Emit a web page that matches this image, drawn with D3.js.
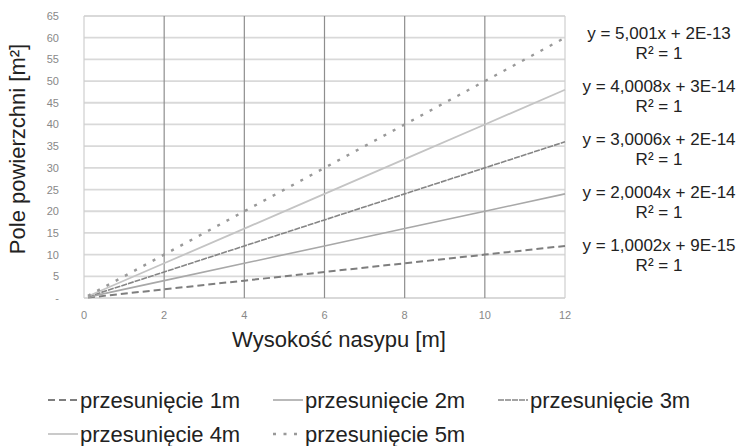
<!DOCTYPE html>
<html>
<head>
<meta charset="utf-8">
<script src="https://cdn.jsdelivr.net/npm/d3@7"></script>
<style>
  body { margin: 0; background: #fff; }
  text { font-family: "Liberation Sans", Arial, sans-serif; }
</style>
</head>
<body>
<svg id="chart" width="743" height="446"></svg>
<script>
// wysokosc nasypu [m]
var heights = [0.1, 2, 4, 6, 8, 10, 12];
// pole powierzchni [m2] dla kazdego przesuniecia
var shift1 = [0.1, 2, 4, 6, 8, 10, 12];
var shift2 = [0.2, 4, 8, 12, 16, 20, 24];
var shift3 = [0.3, 6, 12, 18, 24, 30, 36];
var shift4 = [0.4, 8, 16, 24, 32, 40, 48];
var shift5 = [0.5, 10, 20, 30, 40, 50, 60];

var seriesNames = ["przesunięcie 1m", "przesunięcie 2m", "przesunięcie 3m", "przesunięcie 4m", "przesunięcie 5m"];
var equations = ["y = 5,001x + 2E-13", "y = 4,0008x + 3E-14", "y = 3,0006x + 2E-14", "y = 2,0004x + 2E-14", "y = 1,0002x + 9E-15"];
var xTicks = [0, 2, 4, 6, 8, 10, 12];
var yTicks = [0, 5, 10, 15, 20, 25, 30, 35, 40, 45, 50, 55, 60, 65];

var svg = d3.select("#chart");

var x = d3.scaleLinear().domain([0, 12]).range([84, 565]);
var y = d3.scaleLinear().domain([0, 65]).range([298, 16]);

var styles = [
	{ color: "#7e7e7e", width: 2, dash: "7,4" },
	{ color: "#a8a8a8", width: 1.6, dash: null },
	{ color: "#858585", width: 1.6, dash: "6,1" },
	{ color: "#c4c4c4", width: 1.8, dash: null },
	{ color: "#999999", width: 2.4, dash: "3,7.5" }
];

var series = [shift1, shift2, shift3, shift4, shift5].map(function(vals, i) {
	return { name: seriesNames[i], style: styles[i], values: vals.map(function(v, j) { return [heights[j], v]; }) };
});

// siatka pozioma
svg.append("g")
	.selectAll("line")
	.data(yTicks)
	.enter().append("line")
		.attr("x1", x(0))
		.attr("x2", x(12))
		.attr("y1", function(d) { return y(d); })
		.attr("y2", function(d) { return y(d); })
		.attr("stroke", "#d9d9d9")
		.attr("stroke-width", 1.8);

// siatka pionowa
svg.append("g")
	.selectAll("line")
	.data(xTicks)
	.enter().append("line")
		.attr("x1", function(d) { return x(d); })
		.attr("x2", function(d) { return x(d); })
		.attr("y1", y(0))
		.attr("y2", y(65))
		.attr("stroke", function(d) { return (d == 0 || d == 12) ? "#cfcfcf" : "#8e8e8e"; })
		.attr("stroke-width", 1.2);

// etykiety osi
svg.append("g")
	.selectAll("text")
	.data(yTicks)
	.enter().append("text")
		.attr("x", 59)
		.attr("y", function(d) { return y(d) + 4; })
		.attr("text-anchor", "end")
		.attr("font-size", 11)
		.attr("fill", "#888")
		.text(function(d) { return d == 0 ? "-" : d; });

svg.append("g")
	.selectAll("text")
	.data(xTicks)
	.enter().append("text")
		.attr("x", function(d) { return x(d); })
		.attr("y", 319)
		.attr("text-anchor", "middle")
		.attr("font-size", 11)
		.attr("fill", "#888")
		.text(function(d) { return d; });

// linie
var line = d3.line()
	.x(function(d) { return x(d[0]); })
	.y(function(d) { return y(d[1]); });

svg.append("g")
	.selectAll("path")
	.data(series)
	.enter().append("path")
		.attr("d", function(d) { return line(d.values); })
		.attr("fill", "none")
		.attr("stroke", function(d) { return d.style.color; })
		.attr("stroke-width", function(d) { return d.style.width; })
		.attr("stroke-dasharray", function(d) { return d.style.dash; });

// tytuly osi
svg.append("text")
	.attr("x", 339)
	.attr("y", 347)
	.attr("text-anchor", "middle")
	.attr("font-size", 22)
	.attr("fill", "#222")
	.text("Wysokość nasypu [m]");

svg.append("text")
	.attr("transform", "translate(25,149) rotate(-90)")
	.attr("text-anchor", "middle")
	.attr("font-size", 22)
	.attr("fill", "#222")
	.text("Pole powierzchni [m²]");

// rownania trendu
var eq = svg.append("g")
	.selectAll("g")
	.data(equations)
	.enter().append("g")
		.attr("transform", function(d, i) { return "translate(659," + (39 + i * 53) + ")"; });

eq.append("text")
	.attr("text-anchor", "middle")
	.attr("font-size", 17)
	.attr("fill", "#222")
	.text(function(d) { return d; });

eq.append("text")
	.attr("y", 20)
	.attr("text-anchor", "middle")
	.attr("font-size", 17)
	.attr("fill", "#222")
	.text("R² = 1");

// legenda
var leg = svg.append("g")
	.selectAll("g")
	.data(series)
	.enter().append("g")
		.attr("transform", function(d, i) { return "translate(" + (48 + (i % 3) * 225) + "," + (408 + Math.floor(i / 3) * 34) + ")"; });

leg.append("line")
	.attr("x1", 0)
	.attr("x2", 30)
	.attr("y1", -8)
	.attr("y2", -8)
	.attr("stroke", function(d) { return d.style.color; })
	.attr("stroke-width", function(d) { return d.style.width; })
	.attr("stroke-dasharray", function(d) { return d.style.dash; });

leg.append("text")
	.attr("x", 32)
	.attr("font-size", 22)
	.attr("fill", "#222")
	.text(function(d) { return d.name; });
</script>
</body>
</html>
